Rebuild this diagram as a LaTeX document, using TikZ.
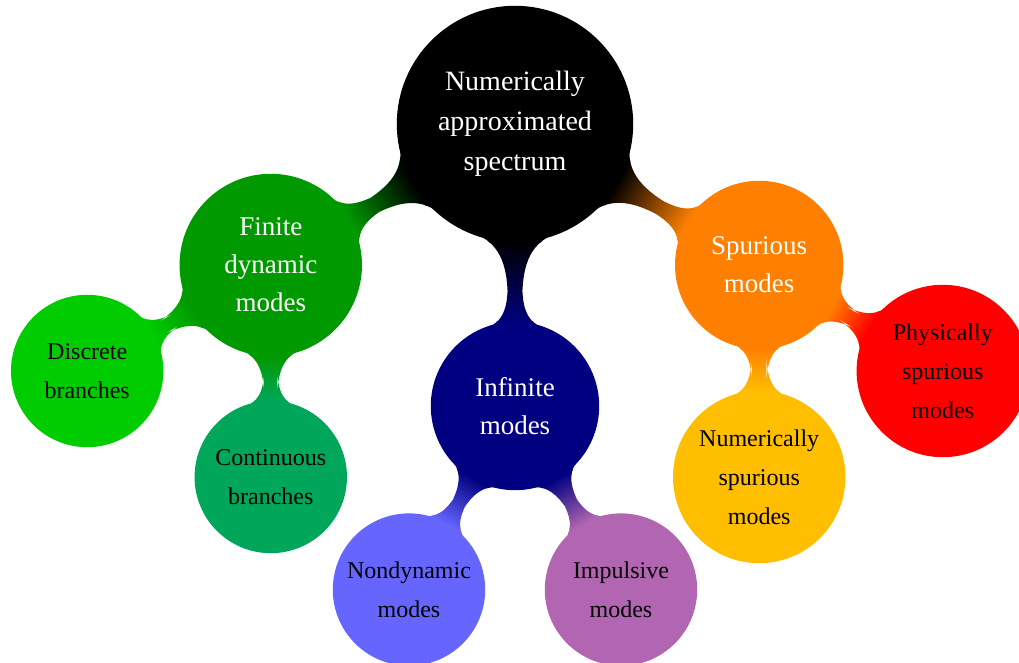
\documentclass[tikz,border=0pt]{standalone}
\usepackage{fontspec}
\setmainfont{Liberation Serif}
\definecolor{finitegreen}{RGB}{0,153,0}
\definecolor{discretegreen}{RGB}{0,204,0}
\definecolor{contgreen}{RGB}{0,166,90}
\definecolor{infblue}{RGB}{0,0,128}
\definecolor{nondynblue}{RGB}{102,102,255}
\definecolor{impulsviolet}{RGB}{178,102,178}
\definecolor{spurorange}{RGB}{255,128,0}
\definecolor{physred}{RGB}{255,0,0}
\definecolor{numyellow}{RGB}{255,191,0}
\usetikzlibrary{mindmap}

\begin{document}
\begin{tikzpicture}[
  mindmap,
  rootc/.style={concept, concept color=black, text=white, inner sep=0pt, minimum size=117pt, text width=90pt, align=center, font=\fontsize{14}{20}\selectfont},
  midc/.style={concept, text=white, inner sep=0pt, minimum size=83pt, text width=60pt, align=center, font=\fontsize{13.5}{19}\selectfont},
  leafc/.style={concept, text=black, inner sep=0pt, minimum size=75pt, text width=63pt, align=center, font=\fontsize{12}{19.5}\selectfont},
  bar/.style={line width=9.5pt},
  thinbar/.style={line width=7.5pt}
]
\useasboundingbox (-257.5pt,-269.5pt) rectangle (252pt,62pt);
\node[rootc] (spec) at (0,0) {Numerically\\approximated\\spectrum};

\node[midc, concept color=finitegreen, minimum size=90pt] (finite) at ([shift={(210:141pt)}]spec) {Finite\\dynamic\\modes};
\node[midc, concept color=infblue] (infinite) at ([shift={(270:141pt)}]spec) {Infinite\\modes};
\node[midc, concept color=spurorange] (spur) at ([shift={(330:141pt)}]spec) {Spurious\\modes};

\node[leafc, concept color=discretegreen] (discrete) at ([shift={(210:106pt)}]finite) {Discrete\\branches};
\node[leafc, concept color=contgreen] (cont) at ([shift={(270:106pt)}]finite) {Continuous\\branches};
\node[leafc, concept color=nondynblue] (nondyn) at ([shift={(240:106pt)}]infinite) {Nondynamic\\modes};
\node[leafc, concept color=impulsviolet] (impuls) at ([shift={(300:106pt)}]infinite) {Impulsive\\modes};
\node[leafc, concept color=physred, minimum size=85pt] (phys) at ([shift={(330:106pt)}]spur) {Physically\\spurious\\modes};
\node[leafc, concept color=numyellow, minimum size=85pt] (numer) at ([shift={(270:106pt)}]spur) {Numerically\\spurious\\modes};

% bars between the concepts
\path[bar] (spec) to[circle connection bar switch color=from (black) to (finitegreen)] (finite);
\path[bar] (spec) to[circle connection bar switch color=from (black) to (infblue)] (infinite);
\path[bar] (spec) to[circle connection bar switch color=from (black) to (spurorange)] (spur);
\path[thinbar] (finite) to[circle connection bar switch color=from (finitegreen) to (discretegreen)] (discrete);
\path[thinbar] (finite) to[circle connection bar switch color=from (finitegreen) to (contgreen)] (cont);
\path[thinbar] (infinite) to[circle connection bar switch color=from (infblue) to (nondynblue)] (nondyn);
\path[thinbar] (infinite) to[circle connection bar switch color=from (infblue) to (impulsviolet)] (impuls);
\path[thinbar] (spur) to[circle connection bar switch color=from (spurorange) to (physred)] (phys);
\path[thinbar] (spur) to[circle connection bar switch color=from (spurorange) to (numyellow)] (numer);
\end{tikzpicture}
\end{document}
